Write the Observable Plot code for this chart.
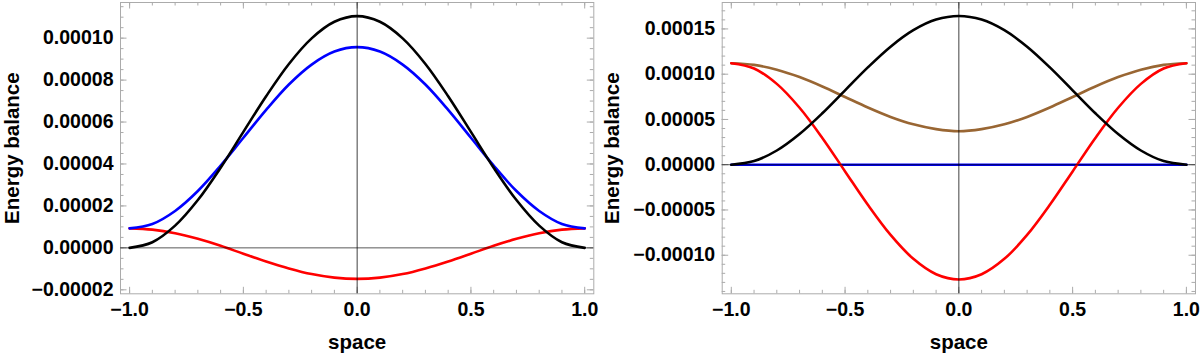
<!DOCTYPE html>
<html><head><meta charset="utf-8">
<script src="https://cdn.jsdelivr.net/npm/d3@7"></script>
<script src="https://cdn.jsdelivr.net/npm/@observablehq/plot@0.6"></script>
<style>
body{margin:0;background:#fff}
#wrap{display:flex;width:1200px;height:354px}
#wrap svg{display:block}
</style>
</head><body><div id="wrap"></div>
<script>
// x positions ("space")
const space = [-1.0,-0.9,-0.8,-0.7,-0.6,-0.5,-0.4,-0.3,-0.2,-0.1,0.0,0.1,0.2,0.3,0.4,0.5,0.6,0.7,0.8,0.9,1.0];

// Left panel series
const leftBlack = [0, 0.27e-5, 1.06e-5, 2.28e-5, 3.82e-5, 5.53e-5, 7.23e-5, 8.77e-5, 9.99e-5, 10.78e-5, 11.05e-5, 10.78e-5, 9.99e-5, 8.77e-5, 7.23e-5, 5.53e-5, 3.82e-5, 2.28e-5, 1.06e-5, 0.27e-5, 0];
const leftBlue  = [0.93e-5, 1.14e-5, 1.76e-5, 2.71e-5, 3.92e-5, 5.25e-5, 6.58e-5, 7.79e-5, 8.74e-5, 9.36e-5, 9.57e-5, 9.36e-5, 8.74e-5, 7.79e-5, 6.58e-5, 5.25e-5, 3.92e-5, 2.71e-5, 1.76e-5, 1.14e-5, 0.93e-5];
const leftRed   = [0.93e-5, 0.87e-5, 0.70e-5, 0.43e-5, 0.10e-5, -0.28e-5, -0.65e-5, -0.98e-5, -1.25e-5, -1.42e-5, -1.48e-5, -1.42e-5, -1.25e-5, -0.98e-5, -0.65e-5, -0.28e-5, 0.10e-5, 0.43e-5, 0.70e-5, 0.87e-5, 0.93e-5];

// Right panel series
const rightBlack = [0, 0.040e-4, 0.157e-4, 0.339e-4, 0.568e-4, 0.822e-4, 1.075e-4, 1.304e-4, 1.486e-4, 1.603e-4, 1.643e-4, 1.603e-4, 1.486e-4, 1.304e-4, 1.075e-4, 0.822e-4, 0.568e-4, 0.339e-4, 0.157e-4, 0.040e-4, 0];
const rightRed   = [1.121e-4, 1.063e-4, 0.893e-4, 0.629e-4, 0.296e-4, -0.074e-4, -0.443e-4, -0.776e-4, -1.040e-4, -1.210e-4, -1.268e-4, -1.210e-4, -1.040e-4, -0.776e-4, -0.443e-4, -0.074e-4, 0.296e-4, 0.629e-4, 0.893e-4, 1.063e-4, 1.121e-4];
const rightBrown = [1.121e-4, 1.103e-4, 1.050e-4, 0.968e-4, 0.864e-4, 0.748e-4, 0.632e-4, 0.528e-4, 0.446e-4, 0.393e-4, 0.370e-4, 0.393e-4, 0.446e-4, 0.528e-4, 0.632e-4, 0.748e-4, 0.864e-4, 0.968e-4, 1.050e-4, 1.103e-4, 1.121e-4];
const rightBlue  = [0,0,0,0,0,0,0,0,0,0,0,0,0,0,0,0,0,0,0,0,0];

// Axes
const xDomain = [-1.04, 1.04];
const xTicks = [-1.0, -0.5, 0.0, 0.5, 1.0];
const xMinorTicks = [-1.0,-0.9,-0.8,-0.7,-0.6,-0.5,-0.4,-0.3,-0.2,-0.1,0.0,0.1,0.2,0.3,0.4,0.5,0.6,0.7,0.8,0.9,1.0];
const leftYDomain = [-2.19e-5, 1.170e-4];
const leftYTicks = [-0.00002, 0, 0.00002, 0.00004, 0.00006, 0.00008, 0.00010];
const leftYMinorStep = 0.000005;
const rightYDomain = [-1.426e-4, 1.792e-4];
const rightYTicks = [-0.00010, -0.00005, 0, 0.00005, 0.00010, 0.00015];
const rightYMinorStep = 0.00001;
const xLabel = "space";
const yLabel = "Energy balance";

const FONT = "'Liberation Sans', Arial, sans-serif";
const FS = 20.5;   // axis labels
const TFS = 19.5;  // tick labels
const frameColor = "#ababab";

function panel({series, yDomain, yTicks, yMinorStep, marginLeft, marginRight}) {
  const W = 600, H = 354, mt = 2, mb = 60.7;
  const innerH = H - mt - mb, innerW = W - marginLeft - marginRight;
  const yMinor = d3.range(Math.ceil(yDomain[0] / yMinorStep), Math.floor(yDomain[1] / yMinorStep) + 1).map(i => i * yMinorStep);
  const major = 6.5, minor = 3.5;
  const lineMarks = series.map(s => Plot.line(space.map((x, i) => ({x, v: s.values[i]})), {
    x: "x", y: "v", stroke: s.color, strokeWidth: 2.6, curve: "catmull-rom"
  }));
  return Plot.plot({
    width: W, height: H, marginLeft, marginRight, marginTop: mt, marginBottom: mb,
    x: {domain: xDomain},
    y: {domain: yDomain},
    style: {fontFamily: FONT, fontSize: TFS + "px", fontWeight: "bold", color: "#000", background: "#fff"},
    marks: [
      Plot.frame({stroke: frameColor, strokeWidth: 1}),
      Plot.ruleX(xMinorTicks, {x: d => d, insetTop: innerH - minor, stroke: frameColor}),
      Plot.ruleX(xTicks, {x: d => d, insetTop: innerH - major, stroke: frameColor}),
      Plot.ruleX(xMinorTicks, {x: d => d, insetBottom: innerH - minor, stroke: frameColor}),
      Plot.ruleX(xTicks, {x: d => d, insetBottom: innerH - major, stroke: frameColor}),
      Plot.ruleY(yMinor, {y: d => d, insetRight: innerW - minor, stroke: frameColor}),
      Plot.ruleY(yTicks, {y: d => d, insetRight: innerW - major, stroke: frameColor}),
      Plot.ruleY(yMinor, {y: d => d, insetLeft: innerW - minor, stroke: frameColor}),
      Plot.ruleY(yTicks, {y: d => d, insetLeft: innerW - major, stroke: frameColor}),
      Plot.axisX({ticks: xTicks, tickSize: 0, tickPadding: 8, tickFormat: d3.format(".1f"), label: null,
        fontSize: TFS, fontWeight: "bold", fontFamily: FONT}),
      Plot.axisY({ticks: yTicks, tickSize: 0, tickPadding: 7, tickFormat: d3.format(".5f"), label: null,
        fontSize: TFS, fontWeight: "bold", fontFamily: FONT}),
      ...lineMarks,
      Plot.ruleY([0], {stroke: "#000", strokeOpacity: 0.65, strokeWidth: 1}),
      Plot.ruleX([0], {stroke: "#000", strokeOpacity: 0.75, strokeWidth: 1}),
      Plot.text([yLabel], {text: d => d, frameAnchor: "left", dx: -(marginLeft - 12), rotate: -90,
        textAnchor: "middle", lineAnchor: "middle",
        fontSize: FS, fontWeight: "bold", fontFamily: FONT, fill: "#000"}),
      Plot.text([xLabel], {text: d => d, frameAnchor: "bottom", dy: 55, textAnchor: "middle", lineAnchor: "bottom",
        fontSize: FS, fontWeight: "bold", fontFamily: FONT, fill: "#000"})
    ]
  });
}

const wrap = document.getElementById("wrap");
wrap.appendChild(panel({
  series: [
    {values: leftRed, color: "#ff0000"},
    {values: leftBlue, color: "#0000ff"},
    {values: leftBlack, color: "#000000"}
  ],
  yDomain: leftYDomain, yTicks: leftYTicks, yMinorStep: leftYMinorStep,
  marginLeft: 120, marginRight: 6.7
}));
wrap.appendChild(panel({
  series: [
    {values: rightBlue, color: "#0000ff"},
    {values: rightBrown, color: "#996633"},
    {values: rightRed, color: "#ff0000"},
    {values: rightBlack, color: "#000000"}
  ],
  yDomain: rightYDomain, yTicks: rightYTicks, yMinorStep: rightYMinorStep,
  marginLeft: 121.7, marginRight: 5
}));
</script>
</body></html>
